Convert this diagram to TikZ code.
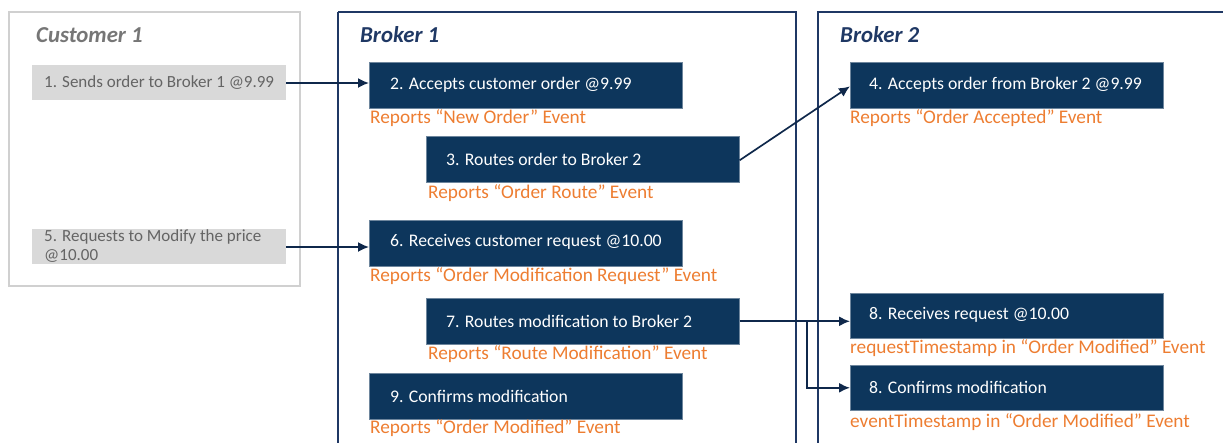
\documentclass[tikz,border=0pt]{standalone}
\usepackage{fontspec}
\setmainfont{Carlito}
\usetikzlibrary{arrows.meta}
\definecolor{navy}{RGB}{13,54,92}
\definecolor{bordnavy}{RGB}{31,56,100}
\definecolor{lgray}{RGB}{208,208,208}
\definecolor{boxgray}{RGB}{217,217,217}
\definecolor{tgray}{RGB}{118,118,118}
\definecolor{orng}{RGB}{237,125,49}
\definecolor{arr}{RGB}{15,40,75}
\tikzset{
  group/.style={draw=bordnavy, line width=2pt},
  cgroup/.style={draw=lgray, line width=2pt},
  title/.style={anchor=west, inner sep=0pt, font=\fontsize{22.8}{26}\selectfont\bfseries\itshape},
  nbox/.style={fill=navy, draw=navy!60!white, line width=0.6pt, anchor=north west, inner sep=0pt, minimum width=313pt, minimum height=46pt},
  gbox/.style={fill=boxgray, anchor=north west, inner sep=0pt, minimum width=254pt, minimum height=35pt},
  wtext/.style={anchor=west, inner sep=0pt, text=white, font=\fontsize{17.7}{21}\selectfont},
  gtext/.style={anchor=west, inner sep=0pt, text=tgray!85!black, font=\fontsize{17}{19.5}\selectfont, align=left},
  otext/.style={anchor=west, inner sep=0pt, text=orng, font=\fontsize{19.3}{22}\selectfont},
  conn/.style={draw=arr, line width=1.7pt, -{Latex[length=11pt,width=10pt]}},
}
\begin{document}
\begin{tikzpicture}[x=1pt,y=-1pt]
\useasboundingbox (0,0) rectangle (1223,442);
% groups
\draw[cgroup] (9,12) rectangle (300,286);
\draw[group] (338,12) -- (338,450) (338,12) -- (796,12) -- (796,450);
\draw[group] (818,450) -- (818,12) -- (1230,12);
\node[title, text=tgray] (tc) at (36,35) {Customer 1};
\node[title, text=bordnavy] (tb1) at (360,35) {Broker 1};
\node[title, text=bordnavy] (tb2) at (840,35) {Broker 2};
% customer boxes
\node[gbox] (b1) at (32,65) {};
\node[gtext] (t1) at (44,83) {1. Sends order to Broker 1 @9.99};
\node[gbox] (b5) at (32,229) {};
\node[gtext, anchor=north west] (t5) at (44,229) {5. Requests to Modify the price\\@10.00};
% broker 1
\node[nbox] (b2) at (369,62) {};
\node[wtext] (t2) at (390,85) {2. Accepts customer order @9.99};
\node[otext] (l2) at (370,118) {Reports “New Order” Event};
\node[nbox] (b3) at (426,136) {};
\node[wtext] (t3) at (446,159) {3. Routes order to Broker 2};
\node[otext] (l3) at (428,193) {Reports “Order Route” Event};
\node[nbox] (b6) at (369,220) {};
\node[wtext] (t6) at (390,242) {6. Receives customer request @10.00};
\node[otext] (l6) at (370,276) {Reports “Order Modification Request” Event};
\node[nbox] (b7) at (426,298) {};
\node[wtext] (t7) at (446,321) {7. Routes modification to Broker 2};
\node[otext] (l7) at (428,354) {Reports “Route Modification” Event};
\node[nbox] (b9) at (369,373) {};
\node[wtext] (t9) at (390,396) {9. Confirms modification};
\node[otext] (l9) at (370,428) {Reports “Order Modified” Event};
% broker 2
\node[nbox] (b4) at (850,62) {};
\node[wtext] (t4) at (869,85) {4. Accepts order from Broker 2 @9.99};
\node[otext] (l4) at (850,118) {Reports “Order Accepted” Event};
\node[nbox, minimum height=45pt] (b8a) at (850,293) {};
\node[wtext] (t8a) at (869,315) {8. Receives request @10.00};
\node[otext] (l8a) at (850,348) {requestTimestamp in “Order Modified” Event};
\node[nbox, minimum height=45pt] (b8b) at (850,365) {};
\node[wtext] (t8b) at (869,387) {8. Confirms modification};
\node[otext] (l8b) at (850,422) {eventTimestamp in “Order Modified” Event};
% connectors
\coordinate (j7) at (807,320);
\draw[conn] (b1.east |- 0,83) -- (b2.west |- 0,83);
\draw[conn] (b5.east |- 0,247) -- (b6.west |- 0,247);
\draw[conn] ([yshift=-1pt]b3.east) -- ([yshift=-1pt]b4.west);
\draw[conn] (b7.east) -- (b8a.west |- b7.east);
\draw[conn] (j7) |- (b8b.west);
\end{tikzpicture}
\end{document}
